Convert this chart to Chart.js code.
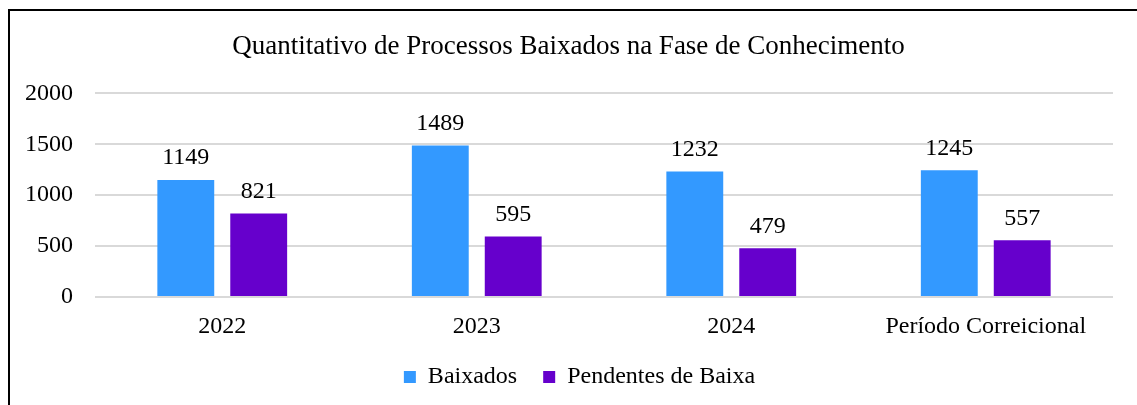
<!DOCTYPE html>
<html>
<head>
<meta charset="utf-8">
<script src="https://cdn.jsdelivr.net/npm/chart.js@4.4.1/dist/chart.umd.min.js"></script>
<style>
  html, body { margin:0; padding:0; background:#fff; overflow:hidden; }
  #frame { position:absolute; left:8px; top:9px; width:1140px; height:410px;
           border:2px solid #000; background:#fff; }
  #wrap { position:absolute; left:0; top:0; width:1127px; height:394px; }
</style>
</head>
<body>
<div id="frame"><div id="wrap"><canvas id="chart"></canvas></div></div>
<script>
// chart data
let categories = ['2022', '2023', '2024', 'Período Correicional'] ;
let baixados = [1149, 1489, 1232, 1245] ;
let pendentes = [821, 595, 479, 557] ;
let yTicks = [0, 500, 1000, 1500, 2000] ;

const serif = "'Liberation Serif', 'Times New Roman', serif" ;

// draws the value above each bar
const valueLabels = {
    id: 'valueLabels',
    afterDatasetsDraw (chart) {
        let ctx = chart.ctx ;
        ctx.save() ;
        ctx.font = "24px " + serif ;
        ctx.fillStyle = '#000' ;
        ctx.textAlign = 'center' ;
        ctx.textBaseline = 'bottom' ;
        chart.data.datasets.forEach((ds, i) => {
            chart.getDatasetMeta(i).data.forEach((bar, j) => {
                ctx.fillText(ds.data[j], bar.x, bar.y - 10) ;
            }) ;
        }) ;
        ctx.restore() ;
    }
} ;

// nudge title and legend a bit to the right, like the original
const nudge = {
    id: 'nudge',
    afterLayout (chart) {
        chart.titleBlock.left += 7 ;
        chart.titleBlock.right += 7 ;
        chart.legend.left += 18 ;
        chart.legend.right += 18 ;
    }
} ;

new Chart(document.getElementById('chart'), {
    type: 'bar',
    data: {
        labels: categories,
        datasets: [
            { label: 'Baixados', data: baixados, backgroundColor: '#3399FF',
              categoryPercentage: 0.573, barPercentage: 0.78 },
            { label: 'Pendentes de Baixa', data: pendentes, backgroundColor: '#6600CC',
              categoryPercentage: 0.573, barPercentage: 0.78 }
        ]
    },
    options: {
        responsive: true,
        maintainAspectRatio: false,
        animation: false,
        layout: { padding: { left: 0, right: 24, top: 0, bottom: 18 } },
        plugins: {
            title: {
                display: true,
                text: 'Quantitativo de Processos Baixados na Fase de Conhecimento',
                color: '#000',
                font: { family: serif, size: 27, weight: 'normal' },
                padding: { top: 20, bottom: 30 }
            },
            legend: {
                position: 'bottom',
                maxHeight: 48,
                labels: {
                    color: '#000',
                    font: { family: serif, size: 24 },
                    boxWidth: 12, boxHeight: 12,
                    padding: 26
                }
            },
            tooltip: { enabled: false }
        },
        scales: {
            x: {
                grid: { display: false },
                border: { display: false },
                ticks: { color: '#000', font: { family: serif, size: 24 }, padding: 7 },
                afterFit: (axis) => { axis.height = 42 ; }
            },
            y: {
                min: 0, max: 2000,
                afterBuildTicks: (axis) => { axis.ticks = yTicks.map(v => ({ value: v })) ; },
                afterFit: (axis) => { axis.width = 85 ; },
                grid: { color: '#d9d9d9', lineWidth: 2, drawTicks: false },
                border: { display: false },
                ticks: { color: '#000', font: { family: serif, size: 24 }, padding: 22,
                         callback: (v) => String(v) }
            }
        }
    },
    plugins: [valueLabels, nudge]
}) ;
</script>
</body>
</html>
